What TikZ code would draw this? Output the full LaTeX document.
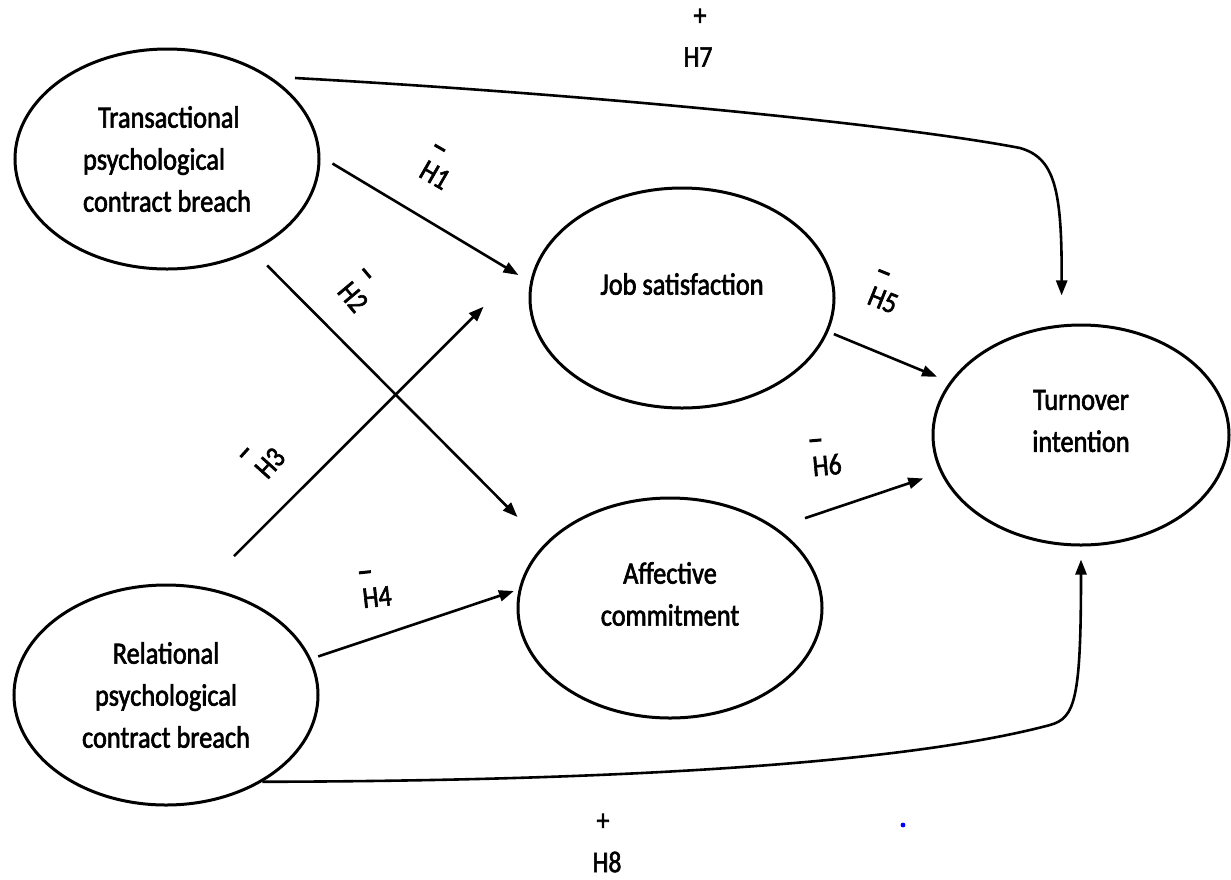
\documentclass[tikz,border=0pt]{standalone}
\usepackage{fontspec}
\setmainfont{Carlito}[FakeStretch=0.85,FakeBold=2]
\usetikzlibrary{arrows.meta,shapes.geometric}
\newcommand{\hypneg}[1]{\rlap{\kern-0.5pt\smash{\raisebox{17pt}{\rule{6pt}{1.5pt}}}}H#1}
\begin{document}
\begin{tikzpicture}[x=0.5pt,y=-0.5pt,
  var/.style={draw,ellipse,line width=1.5pt,minimum width=152pt,minimum height=110pt,inner sep=0pt,align=center,font=\fontsize{15.5}{21}\selectfont},
  vartext/.style={align=center,font=\fontsize{15.5}{21}\selectfont,yshift=7pt},
  arr/.style={line width=1.3pt,-{Triangle[length=7.5pt,width=5.5pt]}},
  hyp/.style={inner sep=0pt,font=\fontsize{15}{18}\selectfont}]
\useasboundingbox (0,0) rectangle (1231,879);
\node[var,align=left] (tpb) at (167,159) {\hspace*{7.5pt}Transactional\\psychological\\contract breach};
\node[var] (rpb) at (166,695) {Relational\\psychological\\contract breach};
\node[var,label={[vartext,name=jstext]center:Job satisfaction}] (js) at (682,298) {};
\node[var,label={[vartext,name=actext]center:Affective\\commitment}] (ac) at (670,608) {};
\node[var,minimum width=148pt,label={[vartext,name=titext]center:Turnover\\intention}] (ti) at (1081,435) {};
\draw[arr,shorten <=7pt,shorten >=6.8pt] (tpb.1) -- (js.174);
\draw[arr,shorten <=10pt,shorten >=19pt] (tpb.-47.6) -- (ac.153.3);
\draw[arr,shorten <=21.7pt,shorten >=54pt] (rpb.71.4) -- (js.151.8);
\draw[arr,shorten <=3.7pt,shorten >=2.5pt] (rpb.14) -- (ac.173.7);
\draw[arr,shorten <=3pt,shorten >=6.8pt] (js.-13.5) -- (ti.158.4);
\draw[arr,shorten <=15pt,shorten >=9pt] (ac.37.9) -- (ti.195);
\coordinate (h7s) at (295,78);
\draw[arr,shorten >=14.5pt] (h7s) .. controls (600,95) and (900,125) .. (1020,148)
  .. controls (1055,158) and (1062,190) .. (ti.100);
\draw[arr,shorten >=6.5pt] (rpb.-42) .. controls (600,781) and (900,765) .. (1050,725)
  .. controls (1075,718) and (1081,700) .. (ti.-90);
\node[hyp,rotate=-30] (h1) at (435,175) {\hypneg{1}};
\node[hyp,rotate=-50] (h2) at (353,297) {\hypneg{2}};
\node[hyp,rotate=48] (h3) at (270,463) {\hypneg{3}};
\node[hyp,rotate=6] (h4) at (377,597) {\hypneg{4}};
\node[hyp,rotate=-22] (h5) at (883,300) {\hypneg{5}};
\node[hyp,rotate=5] (h6) at (827,465) {\hypneg{6}};
\node[hyp] (p7) at (700,17) {+};
\node[hyp] (h7) at (698,57) {H7};
\node[hyp] (p8) at (603,822) {+};
\node[hyp] (h8) at (607,862) {H8};
\fill[blue] (903,825) circle[radius=1.2pt];
\end{tikzpicture}
\end{document}
